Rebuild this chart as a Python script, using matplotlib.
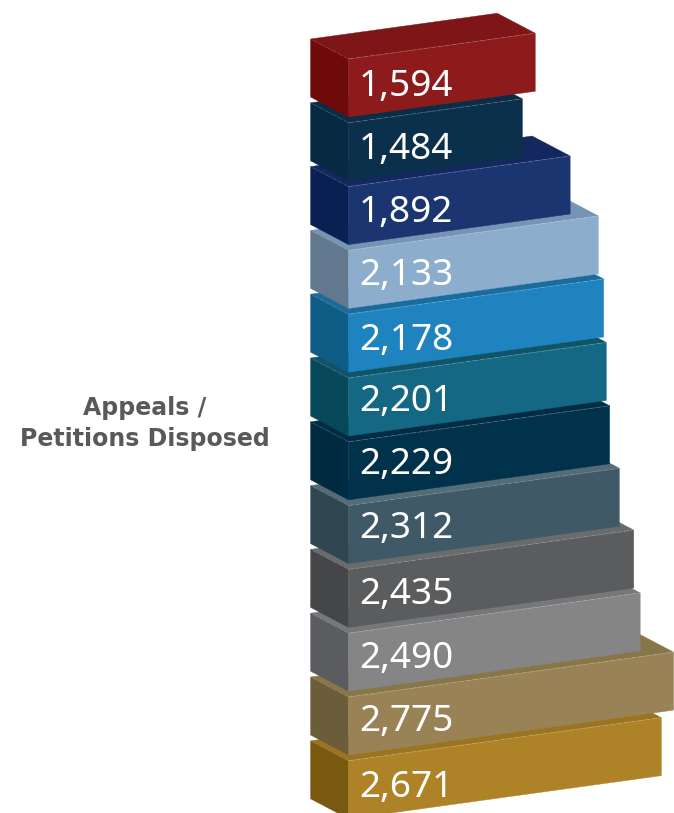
import matplotlib
matplotlib.use("Agg")
import matplotlib.pyplot as plt

# Data, listed from the top of the stack to the bottom
values = [1594, 1484, 1892, 2133, 2178, 2201, 2229, 2312, 2435, 2490, 2775, 2671]
front_colors = ["#8E1B1C", "#0B304C", "#1A3570", "#8CADCB", "#1E83BE", "#146884",
                "#01324C", "#405966", "#5B5C5E", "#858585", "#998356", "#AE8226"]
top_colors = ["#7E1516", "#0A2D47", "#14285F", "#7695B4", "#1A6C9E", "#0F5468",
              "#022C44", "#566B78", "#6A6B6D", "#75777A", "#887548", "#9A7420"]
side_colors = ["#6E0A0A", "#072A42", "#0A1F52", "#62788F", "#0F5C87", "#07485A",
               "#002A40", "#304650", "#454648", "#5B5C5F", "#6C5D3A", "#79590F"]
axis_label = "Appeals /\nPetitions Disposed"

W, H = 674, 813
PX_PER_UNIT = 0.1171
ROW_PX = 63.8
X0, Y0 = 348.6, 59
SLOPE = -0.138
BAR_H = 58 / ROW_PX
DX = -38 / PX_PER_UNIT
DY = -20 / ROW_PX
SHEAR = SLOPE * PX_PER_UNIT / ROW_PX
# Baseline of each value label below its bar's front corner, in pixels
LABEL_DROP = [37, 36, 35, 35, 36, 33, 32, 32, 35, 35, 34, 36]

fig = plt.figure(figsize=(W / 100, H / 100), dpi=100)
ax = fig.add_axes([0, 0, 1, 1])
ax.set_xlim(-X0 / PX_PER_UNIT, (W - X0) / PX_PER_UNIT)
ax.set_ylim((H - Y0) / ROW_PX, -Y0 / ROW_PX)
ax.axis("off")

for row in range(len(values) - 1, -1, -1):
    v = values[row]
    z = 2 * (len(values) - row)
    ye = row + SHEAR * v
    # top face
    ax.fill([0, v, v + DX, DX], [row, ye, ye + DY, row + DY],
            color=top_colors[row], lw=0.3, zorder=z)
    # side face
    ax.fill([DX, 0, 0, DX], [row + DY, row, row + BAR_H, row + DY + BAR_H],
            color=side_colors[row], lw=0.3, zorder=z)
    # front face
    ax.fill([0, v, v, 0], [row, ye, ye + BAR_H, row + BAR_H],
            color=front_colors[row], lw=0.3, zorder=z)
    # light edges
    ax.plot([0, v], [row, ye], color="white", alpha=0.3, lw=0.5,
            ls=(0, (8, 2)), zorder=z + 1)
    ax.plot([0, DX], [row, row + DY], color="white", alpha=0.18, lw=0.5,
            ls=(0, (8, 2)), zorder=z + 1)
    ax.text(10.5 / PX_PER_UNIT, row + LABEL_DROP[row] / ROW_PX, f"{v:,}", color="white",
            fontsize=26.6, family="Noto Sans", ha="left", va="baseline", zorder=z + 1)

ax.text((145 - X0) / PX_PER_UNIT, (446 - Y0) / ROW_PX, axis_label, color="#58595B",
        fontsize=17, family="DejaVu Sans", fontweight="bold", ha="center", va="baseline",
        multialignment="center", linespacing=1.39)

fig.savefig("out.png", dpi=100)
